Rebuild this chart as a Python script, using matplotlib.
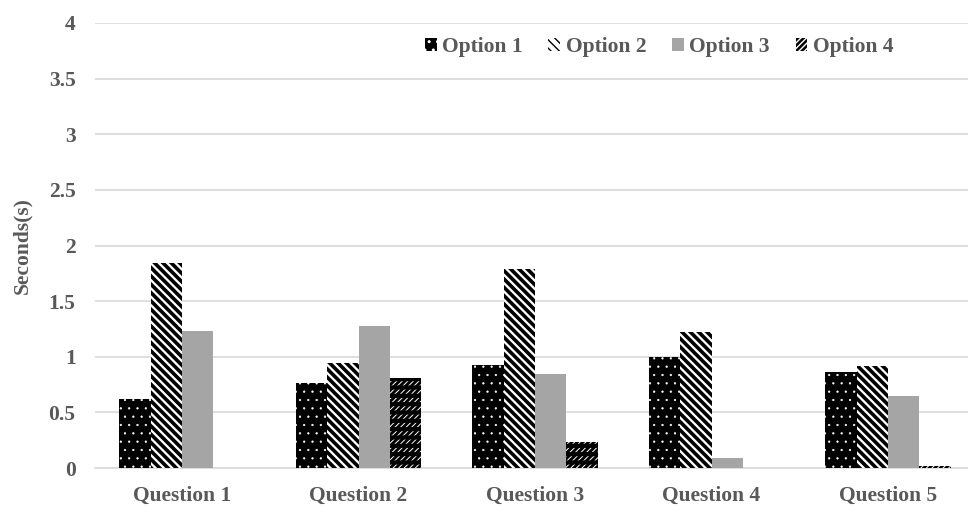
import numpy as np
import matplotlib
matplotlib.use("Agg")
import matplotlib.pyplot as plt

categories = ["Question 1", "Question 2", "Question 3", "Question 4", "Question 5"]
series_names = ["Option 1", "Option 2", "Option 3", "Option 4"]
option1 = [0.62, 0.76, 0.93, 1.00, 0.86]
option2 = [1.84, 0.94, 1.79, 1.225, 0.915]
option3 = [1.23, 1.28, 0.845, 0.087, 0.647]
option4 = [0.0, 0.81, 0.23, 0.0, 0.02]
yticks = [0, 0.5, 1, 1.5, 2, 2.5, 3, 3.5, 4]
ytick_labels = ["0", "0.5", "1", "1.5", "2", "2.5", "3", "3.5", "4"]

TEXT = "#595959"
GRID = "#d9d9d9"
FONT = ["Liberation Serif", "DejaVu Serif"]
FS = 15.5

plt.rcParams["font.family"] = FONT
plt.rcParams["font.weight"] = "bold"

W, H = 968, 512
fig = plt.figure(figsize=(W / 100, H / 100), dpi=100)
ax = fig.add_axes([95 / W, (H - 468) / H, (W - 95) / W, (468 - 23) / H])

x = np.arange(len(categories))
bw = 0.178
offs = np.array([-1.5, -0.5, 0.5, 1.5]) * bw


def set_hlw(bars, lw):
    for b in bars:
        try:
            b.set_hatch_linewidth(lw)
        except AttributeError:
            pass


# Option 1: black with white dots
with plt.rc_context({"hatch.linewidth": 0.4}):
    b1 = ax.bar(x + offs[0], option1, bw, facecolor="black", edgecolor="white",
                hatch="..", linewidth=0, zorder=3)
set_hlw(b1, 0.4)

# Option 2: bold black/white diagonal stripes
with plt.rc_context({"hatch.linewidth": 2.6}):
    b2 = ax.bar(x + offs[1], option2, bw, facecolor="white", edgecolor="black",
                hatch="\\" * 4, linewidth=0, zorder=3)
set_hlw(b2, 2.6)

# Option 3: plain grey
b3 = ax.bar(x + offs[2], option3, bw, facecolor="#a5a5a5", edgecolor="none",
            linewidth=0, zorder=3)

# Option 4: black with short white slashes in rows
with plt.rc_context({"hatch.linewidth": 0.7}):
    b4 = ax.bar(x + offs[3], option4, bw, facecolor="black", edgecolor="white",
                hatch="/" * 6, linewidth=0, zorder=3)
set_hlw(b4, 0.7)
with plt.rc_context({"hatch.linewidth": 3.0}):
    b4b = ax.bar(x + offs[3], option4, bw, facecolor="none", edgecolor="black",
                 hatch="--", linewidth=0, zorder=3.5)
set_hlw(b4b, 3.0)

ax.set_xlim(-0.493, 4.453)
ax.set_ylim(0, 4)
ax.set_yticks(yticks)
ax.set_yticklabels(ytick_labels)
ax.set_xticks(x)
ax.set_xticklabels(categories)
ax.tick_params(axis="both", length=0, labelsize=FS, labelcolor=TEXT)
ax.tick_params(axis="y", pad=14)
ax.tick_params(axis="x", pad=13)
for lab in ax.get_xticklabels() + ax.get_yticklabels():
    lab.set_fontweight("bold")

ax.yaxis.grid(True, color=GRID, linewidth=1.2, zorder=0)
ax.set_axisbelow(True)
for s in ["top", "right", "left"]:
    ax.spines[s].set_visible(False)
ax.spines["bottom"].set_color(GRID)
ax.spines["bottom"].set_linewidth(1.2)

ax.set_ylabel("Seconds(s)", fontsize=FS, color=TEXT, fontweight="bold")
ax.yaxis.set_label_coords(-0.072, 0.5)

leg = ax.legend([b1[1], b2[1], b3[1], b4[1]], series_names, loc="center",
                bbox_to_anchor=((659 - 95) / (W - 95), (468 - 47) / (468 - 23)),
                ncol=4, frameon=False, fontsize=FS, handlelength=0.55,
                handleheight=0.55, handletextpad=0.25, columnspacing=1.2)
for t in leg.get_texts():
    t.set_color(TEXT)
    t.set_fontweight("bold")

fig.savefig("out.png", dpi=100)
